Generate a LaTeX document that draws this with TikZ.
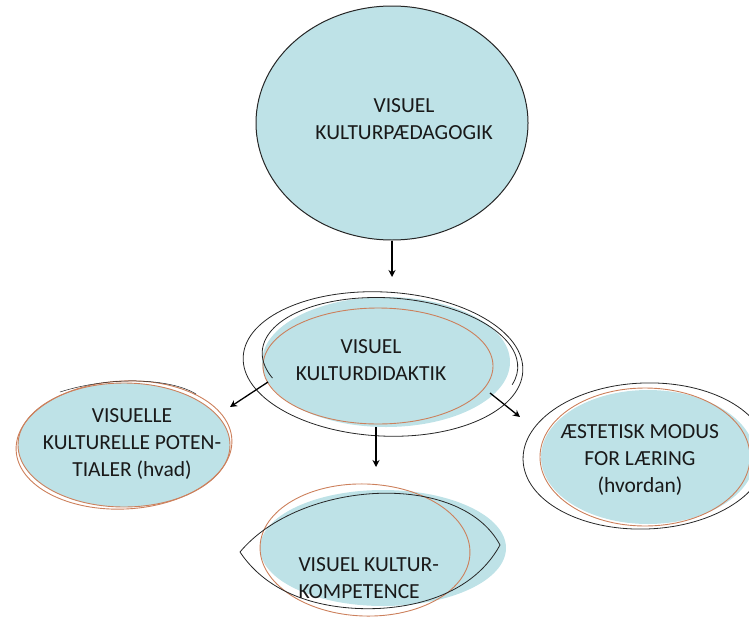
\documentclass[tikz,border=0pt]{standalone}
\usepackage{fontspec}
\setmainfont{Carlito}
\usetikzlibrary{shapes.geometric,arrows.meta}
\definecolor{boblefyld}{RGB}{190,226,231}
\definecolor{kant}{RGB}{204,128,92}
\begin{document}
\begin{tikzpicture}[x=1pt,y=-1pt,
  boble/.style={ellipse,fill=boblefyld,inner sep=0pt},
  tekst/.style={align=center,text=black!90,font=\fontsize{21.5}{27}\selectfont},
  streg/.style={draw=black!85,line width=0.8pt},
  rand/.style={draw=kant,line width=0.9pt},
  pil/.style={-{Stealth[length=7pt,width=7pt]},line width=1.3pt}]
\useasboundingbox (0,0) rectangle (749,621);
\node[boble,draw=black!85,line width=1pt,minimum width=272pt,minimum height=234pt] (vkp) at (392,123) {};
\node[tekst] (vkptxt) at (404,119) {VISUEL\\KULTURPÆDAGOGIK};
\node[boble,minimum width=248pt,minimum height=130pt] (vkd) at (386,362) {};
\draw[rand] (378,366) ellipse [x radius=115pt,y radius=58pt];
\draw[streg,rotate around={-3:(383,364)}] (383,364) ellipse [x radius=140pt,y radius=72pt];
\draw[streg,rotate around={-4:(390,360)}] (390,360) ++(205:128pt and 62pt) arc [start angle=205,end angle=-15,x radius=128pt,y radius=62pt];
\node[tekst] (vkdtxt) at (371,360) {VISUEL\\KULTURDIDAKTIK};
\node[boble,minimum width=212pt,minimum height=124pt] (vkpot) at (124,445) {};
\foreach \r/\s in {0/0,3/2}{\draw[rand,rotate around={\r:(124,445)}] (124,445) ellipse [x radius={106pt+\s pt},y radius={62pt+\s pt}];}
\draw[streg,line width=0.5pt] (60,392) .. controls (110,376) and (170,378) .. (196,394);
\node[tekst] (vkpottxt) at (132,444) {VISUELLE\\KULTURELLE POTEN-\\TIALER (hvad)};
\node[boble,minimum width=214pt,minimum height=134pt] (aem) at (648,457) {};
\draw[rand] (645,457) ellipse [x radius=105pt,y radius=69pt];
\draw[streg,rotate around={2:(645,456)}] (645,456) ellipse [x radius=122pt,y radius=73pt];
\node[tekst] (aemtxt) at (640,460) {ÆSTETISK MODUS\\FOR LÆRING\\(hvordan)};
\node[boble,minimum width=246pt,minimum height=116pt] (vkk) at (383,548) {};
\draw[rand,rotate around={-2:(365,550)}] (365,550) ellipse [x radius=105pt,y radius=66pt];
\draw[streg] (240,552) .. controls (300,480) and (460,470) .. (500,545) .. controls (470,600) and (400,612) .. (350,608) .. controls (300,604) and (262,585) .. (240,552);
\node[tekst,align=left,anchor=west] (vkktxt) at (295,578) {VISUEL KULTUR-\\KOMPETENCE};
\coordinate (a1) at (392,277);
\coordinate (a2s) at (268,382);
\coordinate (a2) at (230,407);
\coordinate (a3s) at (490,393);
\coordinate (a3) at (520,417);
\coordinate (a4) at (376,467);
\draw[pil] (vkp.south -| a1) -- (a1);
\draw[pil] (a2s) -- (a2);
\draw[pil] (a3s) -- (a3);
\draw[pil] (vkd.south -| a4) -- (a4);
\end{tikzpicture}
\end{document}
